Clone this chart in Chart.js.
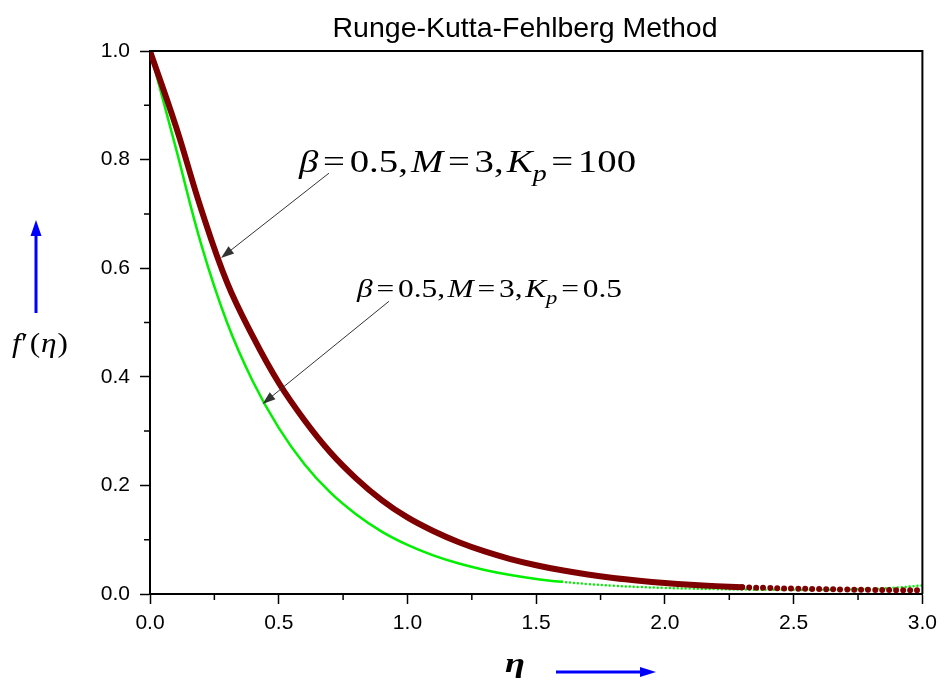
<!DOCTYPE html>
<html>
<head>
<meta charset="utf-8">
<script src="https://cdn.jsdelivr.net/npm/chart.js@4"></script>
<style>
body{margin:0;background:#fff}
</style>
</head>
<body>
<canvas id="c" width="944" height="681"></canvas>
<script>
// eta grid and the two f'(eta) profiles
var eta     = [0, 0.1, 0.2, 0.3, 0.4, 0.5, 0.6, 0.7, 0.8, 0.9, 1.0,
               1.1, 1.2, 1.3, 1.4, 1.5, 1.6, 1.7, 1.8, 1.9, 2.0,
               2.1, 2.2, 2.3, 2.4, 2.5, 2.6, 2.7, 2.8, 2.9, 3.0];
var fpKp100 = [1.0, 0.862, 0.707, 0.573, 0.474, 0.389, 0.320, 0.261, 0.213, 0.173, 0.141,
               0.116, 0.0953, 0.0784, 0.0644, 0.0530, 0.0436, 0.0359, 0.0296, 0.0245, 0.0203,
               0.0170, 0.0145, 0.0126, 0.0111, 0.0099, 0.0090, 0.0082, 0.0076, 0.0071, 0.0067];
var fpKp05  = [1.0, 0.822, 0.642, 0.499, 0.391, 0.306, 0.239, 0.187, 0.147, 0.115, 0.0905,
               0.0712, 0.0561, 0.0443, 0.0350, 0.0278, 0.0224, 0.0183, 0.0152, 0.0129, 0.0112,
               0.0099, 0.0089, 0.0082, 0.0078, 0.0076, 0.0077, 0.0082, 0.0094, 0.0118, 0.0160];

var minorX = [0.25, 0.75, 1.25, 1.75, 2.25, 2.75];
var minorY = [0.1, 0.3, 0.5, 0.7, 0.9];

var SERIF = '"Liberation Serif", "Times New Roman", serif';
var SANS = '"Liberation Sans", Arial, sans-serif';

function drawMath(ctx, x, y, size, parts, width) {
    var w = 0;
    parts.forEach(function(p){
        ctx.font = (p.i ? 'italic ' : '') + (p.b ? 'bold ' : '') + (size*(p.s||1)) + 'px ' + SERIF;
        w += ctx.measureText(p.t).width + (p.g||0)*size;
    });
    var k = width ? width / w : 1;
    ctx.save();
    ctx.translate(x, y);
    ctx.scale(k, 1);
    var cx = 0;
    parts.forEach(function(p){
        ctx.font = (p.i ? 'italic ' : '') + (p.b ? 'bold ' : '') + (size*(p.s||1)) + 'px ' + SERIF;
        ctx.fillText(p.t, cx, (p.dy||0)*size);
        cx += ctx.measureText(p.t).width + (p.g||0)*size;
    });
    ctx.restore();
}

function arrow(ctx, x1, y1, x2, y2, len, half, color, lw) {
    var ang = Math.atan2(y2-y1, x2-x1);
    ctx.strokeStyle = color; ctx.fillStyle = color; ctx.lineWidth = lw;
    ctx.beginPath();
    ctx.moveTo(x1, y1);
    ctx.lineTo(x2 - Math.cos(ang)*len*0.8, y2 - Math.sin(ang)*len*0.8);
    ctx.stroke();
    ctx.beginPath();
    ctx.moveTo(x2, y2);
    ctx.lineTo(x2 - Math.cos(ang)*len - Math.sin(ang)*half, y2 - Math.sin(ang)*len + Math.cos(ang)*half);
    ctx.lineTo(x2 - Math.cos(ang)*len + Math.sin(ang)*half, y2 - Math.sin(ang)*len - Math.cos(ang)*half);
    ctx.closePath();
    ctx.fill();
}

function eqParts(kp) {
    return [
        {t:'\u03B2', i:1, g:0.12},
        {t:'=', g:0.12},
        {t:'0.5,', g:0.08},
        {t:'M', i:1, g:0.12},
        {t:'=', g:0.12},
        {t:'3,', g:0.08},
        {t:'K', i:1},
        {t:'p', i:1, s:0.72, dy:0.28, g:0.12},
        {t:'=', g:0.12},
        {t:kp}
    ];
}

var decor = {
    id: 'decor',
    afterDraw: function(chart) {
        var ctx = chart.ctx, xs = chart.scales.x, ys = chart.scales.y, a = chart.chartArea;
        var X = function(v){ return xs.getPixelForValue(v); };
        var Y = function(v){ return ys.getPixelForValue(v); };
        ctx.save();

        // box on top and right
        ctx.strokeStyle = '#000'; ctx.lineWidth = 2;
        ctx.beginPath();
        ctx.moveTo(a.left, a.top); ctx.lineTo(a.right, a.top); ctx.lineTo(a.right, a.bottom);
        ctx.stroke();

        // minor ticks
        ctx.lineWidth = 1.5;
        ctx.beginPath();
        minorX.forEach(function(v){ ctx.moveTo(X(v), a.bottom); ctx.lineTo(X(v), a.bottom + 6); });
        minorY.forEach(function(v){ ctx.moveTo(a.left, Y(v)); ctx.lineTo(a.left - 6, Y(v)); });
        ctx.stroke();

        // title
        ctx.fillStyle = '#000';
        ctx.font = '28.5px ' + SANS;
        ctx.textAlign = 'center';
        ctx.textBaseline = 'alphabetic';
        ctx.fillText('Runge-Kutta-Fehlberg Method', 525, 37);
        ctx.textAlign = 'left';

        // annotations
        drawMath(ctx, X(0.579), Y(0.777), 32, eqParts('100'), 337);
        drawMath(ctx, X(0.804), Y(0.547), 25, eqParts('0.5'), 265);
        arrow(ctx, X(0.695), Y(0.775), X(0.276), Y(0.619), 13, 4.5, '#333', 1);
        arrow(ctx, X(0.928), Y(0.539), X(0.437), Y(0.350), 13, 4.5, '#333', 1);

        // axis labels with blue arrows
        ctx.fillStyle = '#000';
        drawMath(ctx, 12, 352, 27, [
            {t:'f', i:1, g:0.02},
            {t:'\u2032', g:0.05},
            {t:'(', g:0.03},
            {t:'\u03B7', i:1, g:0.03},
            {t:')'}
        ], 56);
        arrow(ctx, 36, 313, 36, 220, 16, 5.5, '#0000ff', 3);

        ctx.fillStyle = '#000';
        drawMath(ctx, 505, 672, 28, [{t:'\u03B7', i:1, b:1}], 20);
        arrow(ctx, 556, 672, 656, 672, 16, 5, '#0000ff', 3);

        ctx.restore();
    }
};

Chart.defaults.font.family = SANS;
Chart.defaults.color = '#000';

var ctx = document.getElementById('c').getContext('2d');
var chart = new Chart(ctx, {
    type: 'scatter',
    data: {
        datasets: [{
            label: 'Kp = 100',
            data: eta.map(function(x, i){ return {x: x, y: fpKp100[i]}; }),
            showLine: true,
            borderColor: '#7f0000',
            borderWidth: 6,
            borderCapStyle: 'round',
            pointRadius: 0,
            tension: 0.4,
            segment: { borderDash: function(c){ return c.p0.parsed.x >= 2.3 ? [0, 7] : undefined; } }
        }, {
            label: 'Kp = 0.5',
            data: eta.map(function(x, i){ return {x: x, y: fpKp05[i]}; }),
            showLine: true,
            borderColor: '#00f000',
            borderWidth: 2.5,
            borderCapStyle: 'round',
            pointRadius: 0,
            tension: 0.4,
            segment: { borderDash: function(c){ return c.p0.parsed.x >= 1.6 ? [0, 4] : undefined; } }
        }]
    },
    options: {
        responsive: false,
        animation: false,
        devicePixelRatio: 1,
        layout: { padding: { top: 51, right: 19, left: 0, bottom: 0 } },
        plugins: { legend: { display: false }, tooltip: { enabled: false } },
        scales: {
            x: {
                type: 'linear', min: 0, max: 3,
                ticks: { stepSize: 0.5, autoSkip: false, maxRotation: 0, padding: 7, font: { size: 21 },
                         callback: function(v){ return v.toFixed(1); } },
                grid: { drawOnChartArea: false, tickLength: 10, tickColor: '#000', tickWidth: 1.5 },
                border: { color: '#000', width: 2 },
                afterFit: function(s){ s.height = 87; }
            },
            y: {
                min: 0, max: 1,
                ticks: { stepSize: 0.2, padding: 10, font: { size: 21 },
                         callback: function(v){ return v.toFixed(1); } },
                grid: { drawOnChartArea: false, tickLength: 10, tickColor: '#000', tickWidth: 1.5 },
                border: { color: '#000', width: 2 },
                afterFit: function(s){ s.width = 150; }
            }
        }
    },
    plugins: [decor]
});
</script>
</body>
</html>
